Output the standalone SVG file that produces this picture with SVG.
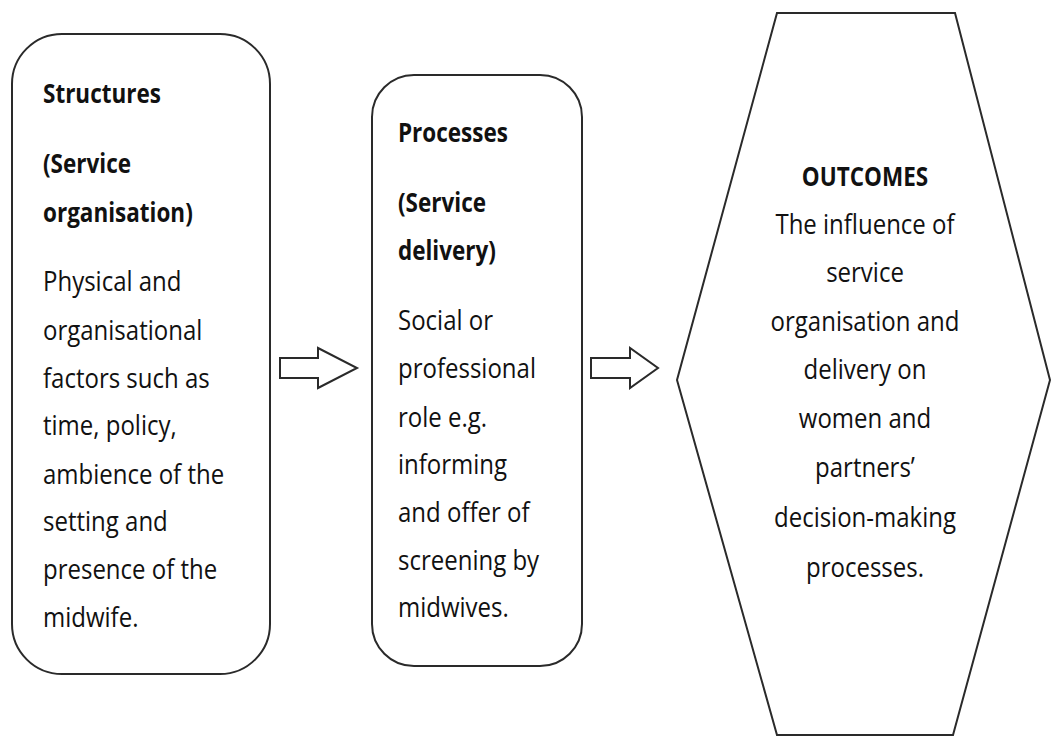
<svg xmlns="http://www.w3.org/2000/svg" width="1052" height="736" viewBox="0 0 1052 736">
<style>
.shape{fill:#fff;stroke:#2a2a2a;stroke-width:2}
.t{font-family:"Open Sans","Noto Sans","Liberation Sans",sans-serif;font-size:24px;fill:#111}
.b{font-weight:bold;font-size:22.5px}
.c{text-anchor:middle}
.arrow{fill:#fff;stroke:#2a2a2a;stroke-width:2;stroke-linejoin:miter}
</style>
<rect width="1052" height="736" fill="#fff"/>
<g id="structures">
<rect class="shape" x="12" y="34" width="258" height="640" rx="50" ry="50"/>
<g transform="scale(1,1.15)">
<text class="t b" x="43" y="89.6">Structures</text>
<text class="t b" x="43" y="150.4">(Service</text>
<text class="t b" x="43" y="193">organisation)</text>
<text class="t" x="43" y="253">Physical and</text>
<text class="t" x="43" y="295.7">organisational</text>
<text class="t" x="43" y="337.4">factors such as</text>
<text class="t" x="43" y="378.3">time, policy,</text>
<text class="t" x="43" y="420.9">ambience of the</text>
<text class="t" x="43" y="461.7">setting and</text>
<text class="t" x="43" y="503.5">presence of the</text>
<text class="t" x="43" y="545.2">midwife.</text>
</g>
</g>
<g id="processes">
<rect class="shape" x="372" y="75" width="210" height="591" rx="42" ry="42"/>
<g transform="scale(1,1.15)">
<text class="t b" x="398" y="123.5">Processes</text>
<text class="t b" x="398" y="184.3">(Service</text>
<text class="t b" x="398" y="226.1">delivery)</text>
<text class="t" x="398" y="287">Social or</text>
<text class="t" x="398" y="328.7">professional</text>
<text class="t" x="398" y="371.3">role e.g.</text>
<text class="t" x="398" y="412.2">informing</text>
<text class="t" x="398" y="453.9">and offer of</text>
<text class="t" x="398" y="495.7">screening by</text>
<text class="t" x="398" y="536.5">midwives.</text>
</g>
</g>
<g id="outcomes">
<polygon class="shape" points="777,13 955,13 1050,380 953,735 777,735 677,380"/>
<g transform="scale(1,1.15)">
<text class="t b c" x="865" y="161.7">OUTCOMES</text>
<text class="t c" x="865" y="203.5">The influence of</text>
<text class="t c" x="865" y="245.2">service</text>
<text class="t c" x="865" y="287.8">organisation and</text>
<text class="t c" x="865" y="329.6">delivery on</text>
<text class="t c" x="865" y="372.2">women and</text>
<text class="t c" x="865" y="414.8">partners’</text>
<text class="t c" x="865" y="458.3">decision-making</text>
<text class="t c" x="865" y="501.7">processes.</text>
</g>
</g>
<g id="connectors">
<polygon class="arrow" points="280,358 318,358 318,348 357,368 318,388 318,378 280,378"/>
<polygon class="arrow" points="591,358 630,358 630,348 658,368 630,388 630,378 591,378"/>
</g>
</svg>
